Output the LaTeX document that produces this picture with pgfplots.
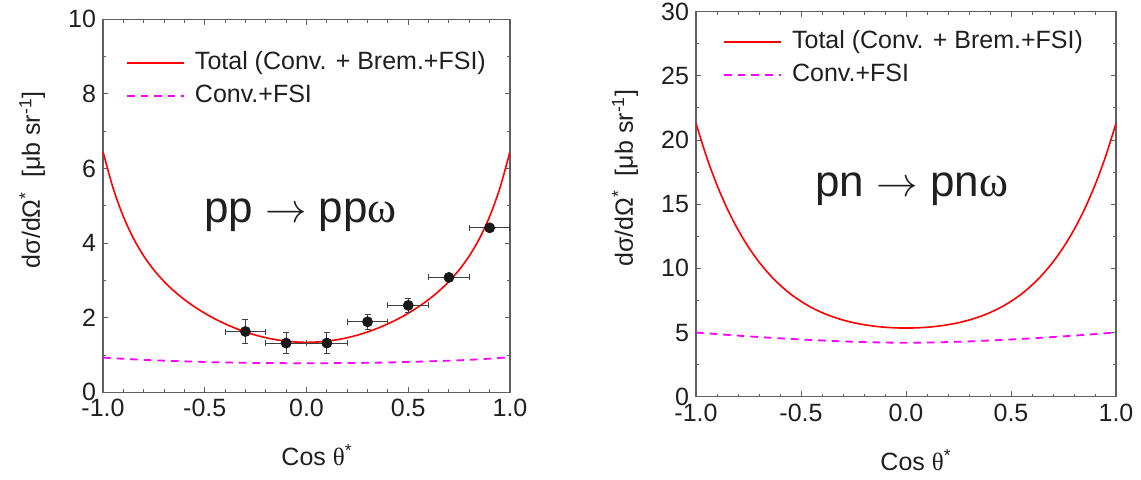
\documentclass[border=0pt]{standalone}
\usepackage{fontspec}
\setmainfont{Liberation Sans}
\newfontfamily\grk{Liberation Serif}
\usepackage{pgfplots}
\pgfplotsset{compat=1.18}
\definecolor{axgray}{RGB}{95,95,95}
\definecolor{mag}{RGB}{255,0,255}
\pgfplotsset{
 myaxis/.style={
  scale only axis,
  xmin=-1,xmax=1,
  xtick={-1,-0.5,0,0.5,1},
  xticklabels={-1.0,-0.5,0.0,0.5,1.0},
  minor x tick num=4,
  minor y tick num=1,
  tick align=inside,
  major tick length=2.7pt,
  minor tick length=1.6pt,
  axis line style={axgray, line width=0.6pt},
  every tick/.style={axgray, line width=0.5pt},
  tick label style={font=\fontsize{12.5}{15}\selectfont, text=black!88},
  label style={font=\fontsize{12.5}{15}\selectfont, text=black!88},
  /pgf/number format/assume math mode=true,
  legend cell align=left,
  legend style={draw=none, fill=none, inner sep=0pt, row sep=0pt,
    font=\fontsize{12.5}{15}\selectfont, text=black!88,
    nodes={inner sep=2pt, text height=9.5pt, text depth=3pt}},
  legend image code/.code={\draw[##1] (0pt,0pt) -- (28.5pt,0pt); \path (31.5pt,0pt);},
 },
 totline/.style={color=red, line width=0.8pt, smooth, no marks},
 convline/.style={color=mag, line width=0.9pt, dash pattern=on 3.8pt off 3pt, smooth, no marks},
}
\begin{document}
\begin{tikzpicture}
\begin{axis}[myaxis, at={(0pt,0pt)}, anchor=south west,
  width=203.5pt, height=186.5pt,
  ymin=0, ymax=10, ytick={0,2,...,10},
  xlabel={Cos {\grk θ}\textsuperscript{*}},
  ylabel={dσ/dΩ\textsuperscript{*}\ \ [μb sr\textsuperscript{-1}]},
  xlabel style={at={(axis description cs:0.526,-0.168)}, anchor=center},
  ylabel style={at={(axis description cs:-0.174,0.57)}, anchor=center},
  legend style={at={(axis description cs:0.056,0.928)}, anchor=north west},
]
\addplot[totline] coordinates {
(-1.0,6.45) (-0.95,5.469) (-0.9,4.712) (-0.85,4.123) (-0.8,3.657) (-0.75,3.280) (-0.7,2.971)
(-0.65,2.710) (-0.6,2.486) (-0.55,2.292) (-0.5,2.120) (-0.45,1.969) (-0.4,1.836) (-0.35,1.719)
(-0.3,1.618) (-0.25,1.533) (-0.2,1.464) (-0.15,1.410) (-0.1,1.371) (-0.05,1.348) (0,1.34)
(0.05,1.348) (0.1,1.371) (0.15,1.410) (0.2,1.464) (0.25,1.533) (0.3,1.618) (0.35,1.719)
(0.4,1.836) (0.45,1.969) (0.5,2.120) (0.55,2.292) (0.6,2.486) (0.65,2.710) (0.7,2.971)
(0.75,3.280) (0.8,3.657) (0.85,4.123) (0.9,4.712) (0.95,5.469) (1.0,6.45)};
\addlegendentry{Total (Conv. + Brem.+FSI)}
\addplot[convline] coordinates {
(-1.0,0.93) (-0.8,0.87) (-0.6,0.83) (-0.4,0.80) (-0.2,0.785) (0,0.78)
(0.2,0.785) (0.4,0.80) (0.6,0.83) (0.8,0.87) (1.0,0.94)};
\addlegendentry{Conv.+FSI}
\addplot[forget plot, only marks, mark=*, mark size=2.5pt, black!90,
  error bars/.cd, x dir=both, x explicit, y dir=both, y explicit,
  error bar style={black!75, line width=0.5pt},
  error mark options={black!75, line width=0.5pt, mark size=1.5pt, rotate=90}]
 coordinates {
 (-0.3,1.63) +- (0.1,0.33)
 (-0.1,1.32) +- (0.1,0.28)
 (0.1,1.32) +- (0.1,0.29)
 (0.3,1.89) +- (0.1,0.20)
 (0.5,2.33) +- (0.1,0.18)
 (0.7,3.08) +- (0.1,0.05)
 (0.9,4.41) +- (0.1,0.03)};
\node[font=\fontsize{22}{26}\selectfont, text=black!88, anchor=base] at (axis cs:-0.03,4.56) {pp $\rightarrow$ pp{\grk ω}};
\end{axis}
\begin{axis}[myaxis, at={(296.5pt,-2.2pt)}, anchor=south west,
  width=210pt, height=192.5pt,
  ymin=0, ymax=30, ytick={0,5,...,30},
  xlabel={Cos {\grk θ}\textsuperscript{*}},
  ylabel={dσ/dΩ\textsuperscript{*}\ \ [μb sr\textsuperscript{-1}]},
  xlabel style={at={(axis description cs:0.524,-0.164)}, anchor=center},
  ylabel style={at={(axis description cs:-0.169,0.568)}, anchor=center},
  legend style={at={(axis description cs:0.064,0.965)}, anchor=north west},
]
\addplot[totline] coordinates {
(-1.0,21.30) (-0.95,18.70) (-0.9,16.49) (-0.85,14.61) (-0.8,13.01) (-0.75,11.65) (-0.7,10.50)
(-0.65,9.524) (-0.6,8.700) (-0.55,8.008) (-0.5,7.430) (-0.45,6.950) (-0.4,6.555) (-0.35,6.233)
(-0.3,5.973) (-0.25,5.768) (-0.2,5.610) (-0.15,5.493) (-0.1,5.412) (-0.05,5.365) (0,5.35)
(0.05,5.365) (0.1,5.412) (0.15,5.493) (0.2,5.610) (0.25,5.768) (0.3,5.973) (0.35,6.233)
(0.4,6.555) (0.45,6.950) (0.5,7.430) (0.55,8.008) (0.6,8.700) (0.65,9.524) (0.7,10.50)
(0.75,11.65) (0.8,13.01) (0.85,14.61) (0.9,16.49) (0.95,18.70) (1.0,21.30)};
\addlegendentry{Total (Conv. + Brem.+FSI)}
\addplot[convline] coordinates {
(-1.0,5.0) (-0.9,4.88) (-0.8,4.76) (-0.7,4.65) (-0.6,4.55) (-0.5,4.46) (-0.4,4.38)
(-0.3,4.31) (-0.2,4.26) (-0.1,4.22) (0,4.21) (0.1,4.22) (0.2,4.26) (0.3,4.31)
(0.4,4.38) (0.5,4.46) (0.6,4.55) (0.7,4.65) (0.8,4.76) (0.9,4.88) (1.0,5.0)};
\addlegendentry{Conv.+FSI}
\node[font=\fontsize{22}{26}\selectfont, text=black!88, anchor=base] at (axis cs:0.027,15.6) {pn $\rightarrow$ pn{\grk ω}};
\end{axis}
\pgfresetboundingbox
\path[use as bounding box] (-51.5pt,-43.35pt) rectangle (519pt,196.15pt);
\end{tikzpicture}
\end{document}
